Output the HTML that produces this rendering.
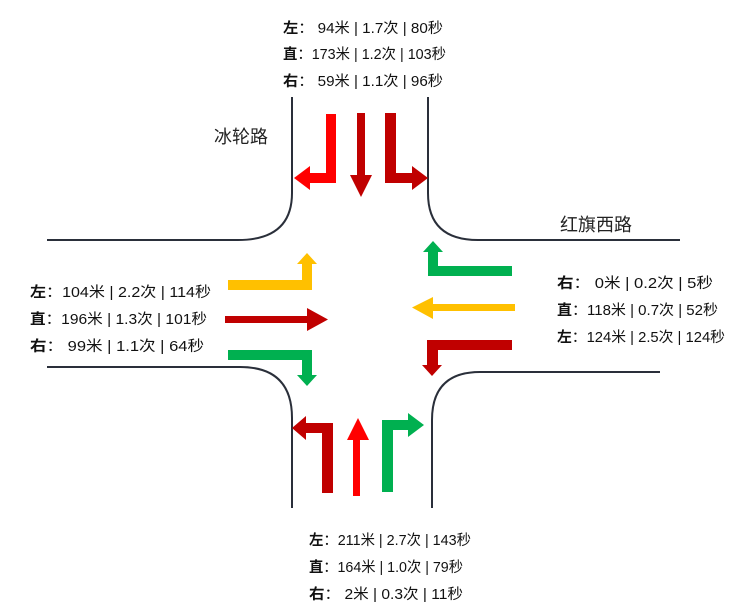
<!DOCTYPE html>
<html><head><meta charset="utf-8"><style>
html,body{margin:0;padding:0;background:#fff}
svg{display:block}
text{font-family:"Liberation Sans","Noto Sans CJK SC",sans-serif;font-size:14.5px;fill:#111}
.b{font-weight:bold}
.rn{font-size:18px;fill:#222}
</style></head><body>
<svg width="750" height="614" viewBox="0 0 750 614" xmlns="http://www.w3.org/2000/svg">
<g fill="none" stroke="#2a2f3a" stroke-width="2">
<path d="M292 97 V193 Q292 240 238 240 H47"/>
<path d="M428 97 V193 Q428 240 478 240 H680"/>
<path d="M47 367 H240 Q292 367 292 418 V508"/>
<path d="M660 372 H480 Q432 372 432 420 V508"/>
</g>
<path fill="#ff0000" d="M326 114 H336 V183 H310 V190 L294 178 L310 166 V173 H326 Z"/>
<path fill="#c00000" d="M357 113 H365 V175 H372 L361 197 L350 175 H357 Z"/>
<path fill="#c00000" d="M385 113 H396 V173 H412 V166 L428 178 L412 190 V183 H385 Z"/>
<path fill="#ffc000" d="M228 280 H302 V264 H297 L307 253 L317 264 H312 V290 H228 Z"/>
<path fill="#c00000" d="M225 316 H307 V308 L328 319.5 L307 331 V323 H225 Z"/>
<path fill="#00b050" d="M228 350 H312 V375 H317 L307 386 L297 375 H302 V360 H228 Z"/>
<path fill="#00b050" d="M512 266 H438 V252 H443 L433 241 L423 252 H428 V276 H512 Z"/>
<path fill="#ffc000" d="M515 304 H433 V297 L412 307.5 L433 319 V311 H515 Z"/>
<path fill="#c00000" d="M512 340 H427 V365 H422 L432 376 L442 365 H438 V350 H512 Z"/>
<path fill="#c00000" d="M333 493 H322 V433 H306 V440 L292 428 L306 416 V423 H333 Z"/>
<path fill="#ff0000" d="M353 496 H360 V440 H369 L358 418 L347 440 H353 Z"/>
<path fill="#00b050" d="M382 492 H393 V430 H408 V437 L424 425 L408 413 V420 H382 Z"/>
<text class="rn" x="214" y="143">冰轮路</text>
<text class="rn" x="560" y="231">红旗西路</text>
<text x="283" y="33" textLength="160" lengthAdjust="spacingAndGlyphs"><tspan class="b">左</tspan>：   94米 | 1.7次 | 80秒</text>
<text x="283" y="59" textLength="163" lengthAdjust="spacingAndGlyphs"><tspan class="b">直</tspan>：173米 | 1.2次 | 103秒</text>
<text x="283" y="86" textLength="160" lengthAdjust="spacingAndGlyphs"><tspan class="b">右</tspan>：   59米 | 1.1次 | 96秒</text>
<text x="30" y="297" textLength="181" lengthAdjust="spacingAndGlyphs"><tspan class="b">左</tspan>：104米 |  2.2次 |  114秒</text>
<text x="30" y="324" textLength="177" lengthAdjust="spacingAndGlyphs"><tspan class="b">直</tspan>：196米 | 1.3次 |  101秒</text>
<text x="30" y="351" textLength="174" lengthAdjust="spacingAndGlyphs"><tspan class="b">右</tspan>：  99米 | 1.1次 |  64秒</text>
<text x="557" y="288" textLength="156" lengthAdjust="spacingAndGlyphs"><tspan class="b">右</tspan>：    0米 |  0.2次 | 5秒</text>
<text x="557" y="315" textLength="161" lengthAdjust="spacingAndGlyphs"><tspan class="b">直</tspan>：118米 |  0.7次 | 52秒</text>
<text x="557" y="342" textLength="168" lengthAdjust="spacingAndGlyphs"><tspan class="b">左</tspan>：124米 |  2.5次 | 124秒</text>
<text x="309" y="545" textLength="162" lengthAdjust="spacingAndGlyphs"><tspan class="b">左</tspan>：211米 | 2.7次 | 143秒</text>
<text x="309" y="572" textLength="154" lengthAdjust="spacingAndGlyphs"><tspan class="b">直</tspan>：164米 | 1.0次 | 79秒</text>
<text x="309" y="599" textLength="154" lengthAdjust="spacingAndGlyphs"><tspan class="b">右</tspan>：    2米 | 0.3次 | 11秒</text>
</svg>
</body></html>
